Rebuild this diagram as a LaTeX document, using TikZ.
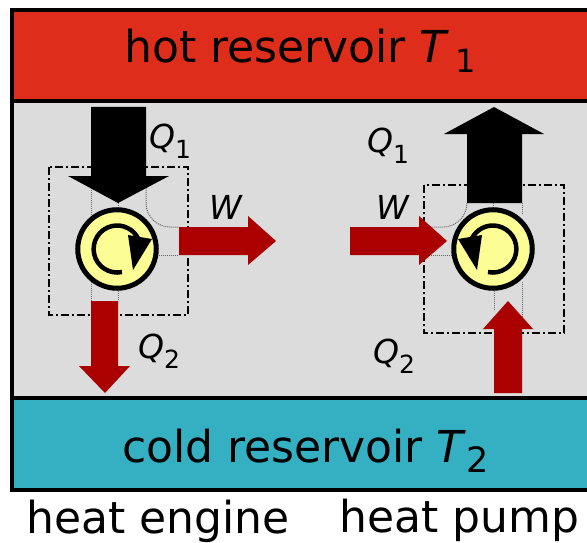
\documentclass[tikz,border=0pt]{standalone}
\usepackage{fontspec}
\setmainfont{DejaVu Sans}
\definecolor{hotred}{HTML}{DE2D1A}
\definecolor{coldblue}{HTML}{35B0C3}
\definecolor{midgray}{HTML}{DCDCDC}
\definecolor{flowred}{HTML}{AA0000}
\definecolor{cycleyellow}{HTML}{FDFD96}
\newcommand{\bigsub}[2]{\raisebox{-10pt}{\fontsize{#1}{#1}\selectfont #2}}
\newcommand{\symsub}[1]{\raisebox{-10pt}{\fontsize{25}{25}\selectfont #1}}
\tikzset{
    band/.style={draw=black,line width=4.5pt},
    bigtext/.style={font=\fontsize{44}{44}\selectfont,inner sep=0pt,anchor=base west},
    symtext/.style={font=\fontsize{33}{33}\selectfont,inner sep=0pt,anchor=base west},
    frame/.style={draw=black,line width=1.4pt,dash pattern=on 8pt off 3pt on 2pt off 3pt},
    guide/.style={draw=black!60,line width=1pt,densely dotted},
    flow/.style={fill=flowred,draw=none},
    heat/.style={fill=black,draw=none},
    wheel/.style={circle,draw=black,fill=cycleyellow,line width=5pt,minimum size=78.5pt,inner sep=0pt}
}
\begin{document}
\begin{tikzpicture}[x=1pt,y=-1pt]
    \useasboundingbox (0,0) rectangle (587,543);
    % reservoirs
    \draw[band,fill=midgray] (12,101) rectangle (600,398);
    \draw[band,fill=hotred] (12,10) rectangle (600,101);
    \draw[band,fill=coldblue] (12,398) rectangle (600,490);
    \node[bigtext] (hot) at (124,63) {hot reservoir \textit{T}\kern0.14em\bigsub{32}{1}};
    \node[bigtext] (cold) at (122,462) {cold reservoir \textit{T}\bigsub{35}{2}};
    \node[bigtext] (engine) at (26,533) {heat engine};
    \node[bigtext] (pump) at (339,532) {heat pump};
    % frames
    \draw[frame] (49,167) rectangle (188,315);
    \draw[frame] (424,185) rectangle (564,333);
    % dotted guides, engine
    \draw[guide] (91,176) -- (91,215);
    \draw[guide] (118,203) -- (118,209);
    \draw[guide] (146,176) -- (146,203) arc[start angle=180,end angle=90,radius=24] -- (179,227);
    \draw[guide] (155,255) -- (179,255);
    \draw[guide] (91,282) -- (91,301);
    \draw[guide] (118,289) -- (118,301);
    % dotted guides, pump
    \draw[guide] (467,203) arc[start angle=0,end angle=90,radius=24] -- (419,227);
    \draw[guide] (419,255) -- (455,255);
    \draw[guide] (493,203) -- (493,209);
    \draw[guide] (522,203) -- (522,215);
    \draw[guide] (494,289) -- (494,310);
    \draw[guide] (522,282) -- (522,329);
    % block arrows, engine
    \draw[heat] (91,107) -- (146,107) -- (146,176) -- (169,176) -- (118,203) -- (68,176) -- (91,176) -- cycle;
    \draw[flow] (179,227) -- (248,227) -- (248,216) -- (276,241) -- (248,265) -- (248,255) -- (179,255) -- cycle;
    \draw[flow] (91,301) -- (118,301) -- (118,366) -- (130,366) -- (105,393) -- (79,366) -- (91,366) -- cycle;
    % block arrows, pump
    \draw[heat] (467,203) -- (522,203) -- (522,134) -- (544,134) -- (494,107) -- (444,134) -- (467,134) -- cycle;
    \draw[flow] (350,227) -- (419,227) -- (419,216) -- (447,241) -- (419,265) -- (419,255) -- (350,255) -- cycle;
    \draw[flow] (494,393) -- (522,393) -- (522,329) -- (533,329) -- (508,301) -- (483,329) -- (494,329) -- cycle;
    % wheels
    \node[wheel] (enginewheel) at (117,249) {};
    \node[wheel] (pumpwheel) at (493,249) {};
    \draw[line width=4.5pt] (122,272) arc[start angle=78,end angle=335,radius=23.5];
    \draw[line width=4.5pt] (488,272) arc[start angle=102,end angle=-155,radius=23.5];
    \fill (128,235) -- (152,239) -- (133,270) -- cycle;
    \fill (482,235) -- (458,239) -- (477,270) -- cycle;
    % symbols
    \node[symtext] (qa) at (149,148) {\textit{Q}\symsub{1}};
    \node[symtext] (wa) at (209,219) {\textit{W}};
    \node[symtext] (qb) at (138,358) {\textit{Q}\symsub{2}};
    \node[symtext] (qc) at (367,153) {\textit{Q}\symsub{1}};
    \node[symtext] (wb) at (376,219) {\textit{W}};
    \node[symtext] (qd) at (373,363) {\textit{Q}\symsub{2}};
\end{tikzpicture}
\end{document}
